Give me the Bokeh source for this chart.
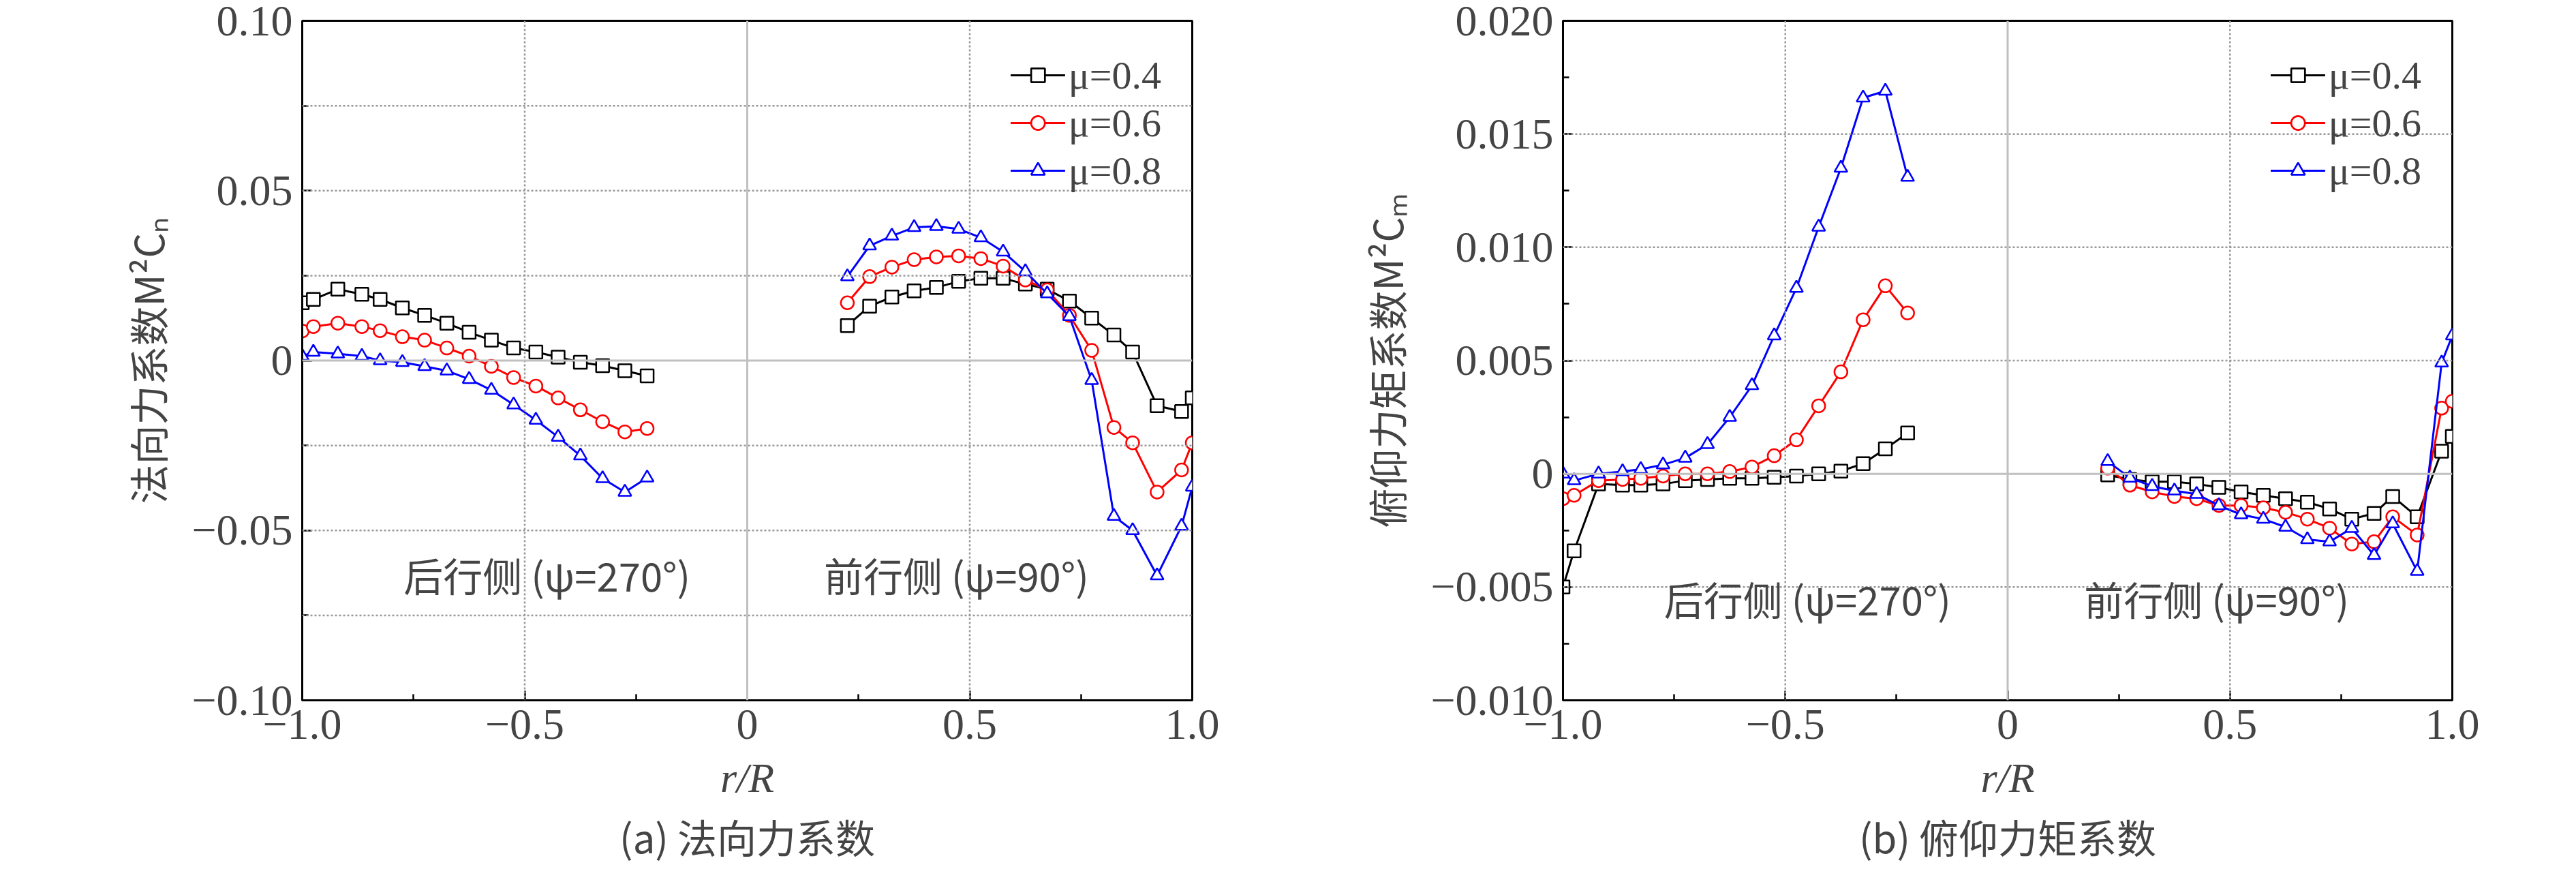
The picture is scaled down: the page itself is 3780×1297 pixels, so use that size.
from bokeh.plotting import figure
from bokeh.layouts import row
from bokeh.models import FixedTicker, Span, Title, Label, Legend, LegendItem
from bokeh.embed import file_html
from bokeh.resources import INLINE

x_neg = [-1.0, -0.975, -0.92, -0.866, -0.825, -0.775, -0.725, -0.675, -0.625, -0.575, -0.525, -0.475, -0.425, -0.375, -0.325, -0.275, -0.225]
x_pos = [0.225, 0.275, 0.325, 0.375, 0.425, 0.475, 0.525, 0.575, 0.625, 0.674, 0.724, 0.774, 0.824, 0.866, 0.921, 0.976, 1.0]

cn_04_neg = [0.017, 0.018, 0.021, 0.0195, 0.018, 0.0155, 0.0133, 0.011, 0.0083, 0.006, 0.0037, 0.0025, 0.001, -0.0005, -0.0015, -0.003, -0.0045]
cn_06_neg = [0.0087, 0.010, 0.011, 0.010, 0.0088, 0.007, 0.006, 0.0037, 0.0013, -0.0017, -0.005, -0.0075, -0.011, -0.0145, -0.018, -0.021, -0.020]
cn_08_neg = [0.0013, 0.0025, 0.002, 0.0013, 0.0, -0.0005, -0.0017, -0.003, -0.0055, -0.0087, -0.013, -0.0175, -0.0225, -0.028, -0.0347, -0.0387, -0.0345]
cn_04_pos = [0.0103, 0.016, 0.0187, 0.0205, 0.0215, 0.0233, 0.0242, 0.0242, 0.0225, 0.021, 0.0175, 0.0125, 0.0075, 0.0025, -0.0133, -0.015, -0.011]
cn_06_pos = [0.017, 0.0247, 0.0275, 0.0297, 0.0305, 0.0308, 0.030, 0.0278, 0.0237, 0.0208, 0.0133, 0.003, -0.0197, -0.0242, -0.0387, -0.0322, -0.0242]
cn_08_pos = [0.0247, 0.0338, 0.0367, 0.0392, 0.0395, 0.0387, 0.0362, 0.032, 0.0262, 0.0197, 0.013, -0.0058, -0.0458, -0.050, -0.0633, -0.0487, -0.0372]

cm_04_neg = [-0.005, -0.0034, -0.00045, -0.0005, -0.0005, -0.00045, -0.0003, -0.00025, -0.0002, -0.0002, -0.00015, -0.0001, 0.0, 0.00012, 0.00045, 0.0011, 0.0018]
cm_06_neg = [-0.0011, -0.00095, -0.0003, -0.00025, -0.0002, -0.0001, 0.0, 0.0, 0.0001, 0.0003, 0.0008, 0.0015, 0.003, 0.0045, 0.0068, 0.0083, 0.0071]
cm_08_neg = [0.0, -0.0003, 0.0, 0.0001, 0.0002, 0.0004, 0.0007, 0.0013, 0.0025, 0.0039, 0.0061, 0.0082, 0.0109, 0.0135, 0.0166, 0.0169, 0.0131]
cm_04_pos = [-0.00005, -0.00025, -0.00035, -0.00035, -0.00045, -0.0006, -0.0008, -0.00095, -0.0011, -0.00125, -0.00155, -0.002, -0.00175, -0.001, -0.0019, 0.001, 0.00165]
cm_06_pos = [0.00025, -0.0005, -0.0008, -0.001, -0.0011, -0.0014, -0.0014, -0.0015, -0.0017, -0.002, -0.0024, -0.0031, -0.003, -0.0019, -0.0027, 0.0029, 0.0032]
cm_08_pos = [0.00055, -0.00018, -0.00055, -0.00075, -0.0009, -0.0014, -0.0018, -0.002, -0.00235, -0.0029, -0.003, -0.0024, -0.0036, -0.0022, -0.0043, 0.0049, 0.0061]

labels = ["μ=0.4", "μ=0.6", "μ=0.8"]
colors = ["black", "red", "blue"]
markers = ["square", "circle", "triangle"]

SERIF = "Liberation Serif"
CJK = "Noto Sans CJK SC"


def make(series, yr, yticks, ylabels, ygrid, yminor, ylab, caption, ann_y, bl, br, width):
    p = figure(width=width, height=1280, x_range=(-1, 1), y_range=yr,
               output_backend="svg", toolbar_location=None,
               min_border_left=bl, min_border_right=br, min_border_top=30, min_border_bottom=253)
    p.background_fill_color = "white"
    p.outline_line_color = "black"
    p.outline_line_width = 3
    p.xgrid.visible = False
    p.ygrid.visible = False
    for v in [-0.5, 0.5]:
        p.add_layout(Span(location=v, dimension="height", line_color="#999999", line_dash="3 3", line_width=2.5))
    for v in ygrid:
        p.add_layout(Span(location=v, dimension="width", line_color="#999999", line_dash="3 3", line_width=2.5))
    p.add_layout(Span(location=0, dimension="height", line_color="#c0c0c0", line_width=3))
    p.add_layout(Span(location=0, dimension="width", line_color="#c0c0c0", line_width=3))

    items = []
    for (xs_list, ys_list), lab, c, m in zip(series, labels, colors, markers):
        rs = []
        for xs, ys in zip(xs_list, ys_list):
            rs.append(p.line(xs, ys, line_color=c, line_width=3))
            rs.append(p.scatter(xs, ys, marker=m, size=19, fill_color="white", line_color=c, line_width=2.5))
        items.append(LegendItem(label=lab, renderers=rs))
    leg = Legend(items=items, location="top_right", border_line_alpha=0, background_fill_alpha=0,
                 label_text_font=SERIF, label_text_font_size="58px",
                 glyph_width=80, glyph_height=50, spacing=0, padding=5, margin=40, label_height=70)
    p.add_layout(leg)

    for ax in (p.xaxis[0], p.yaxis[0]):
        ax.axis_line_width = 3
        ax.major_tick_in = 14
        ax.major_tick_out = 0
        ax.minor_tick_in = 9
        ax.minor_tick_out = 0
        ax.major_tick_line_width = 2.5
        ax.minor_tick_line_width = 2.5
        ax.major_label_text_font = SERIF
        ax.major_label_text_font_size = "64px"
        ax.major_label_standoff = 14
    p.xaxis.ticker = FixedTicker(ticks=[-1, -0.5, 0, 0.5, 1], minor_ticks=[-0.75, -0.25, 0.25, 0.75])
    p.xaxis.major_label_overrides = {-1: "−1.0", -0.5: "−0.5", 0: "0", 0.5: "0.5", 1: "1.0"}
    p.xaxis.axis_label = "r/R"
    p.xaxis.axis_label_text_font = SERIF
    p.xaxis.axis_label_text_font_style = "italic"
    p.xaxis.axis_label_text_font_size = "62px"
    p.xaxis.axis_label_standoff = 20
    p.yaxis.ticker = FixedTicker(ticks=yticks, minor_ticks=yminor)
    p.yaxis.major_label_overrides = ylabels
    p.yaxis.axis_label = ylab
    p.yaxis.axis_label_text_font = CJK
    p.yaxis.axis_label_text_font_style = "normal"
    p.yaxis.axis_label_text_font_size = "58px"
    p.yaxis.axis_label_standoff = 20

    p.add_layout(Label(x=-0.45, y=ann_y, text="后行侧 (ψ=270°)", text_align="center", text_baseline="middle",
                       text_font=CJK, text_font_size="58px"))
    p.add_layout(Label(x=0.47, y=ann_y, text="前行侧 (ψ=90°)", text_align="center", text_baseline="middle",
                       text_font=CJK, text_font_size="58px"))
    p.add_layout(Title(text=caption, align="center", text_font=CJK, text_font_size="58px",
                       text_font_style="normal"), "below")
    return p


series_a = [([x_neg, x_pos], [cn_04_neg, cn_04_pos]),
            ([x_neg, x_pos], [cn_06_neg, cn_06_pos]),
            ([x_neg, x_pos], [cn_08_neg, cn_08_pos])]
series_b = [([x_neg, x_pos], [cm_04_neg, cm_04_pos]),
            ([x_neg, x_pos], [cm_06_neg, cm_06_pos]),
            ([x_neg, x_pos], [cm_08_neg, cm_08_pos])]

pa = make(series_a, (-0.1, 0.1), [-0.1, -0.05, 0, 0.05, 0.1],
          {-0.1: "−0.10", -0.05: "−0.05", 0: "0", 0.05: "0.05", 0.1: "0.10"},
          [-0.075, -0.05, -0.025, 0.025, 0.05, 0.075], [-0.075, -0.025, 0.025, 0.075],
          "法向力系数M²Cₙ", "(a) 法向力系数", -0.063, 443, 133, 1882)
pb = make(series_b, (-0.01, 0.02), [-0.01, -0.005, 0, 0.005, 0.01, 0.015, 0.02],
          {-0.01: "−0.010", -0.005: "−0.005", 0: "0", 0.005: "0.005", 0.01: "0.010", 0.015: "0.015", 0.02: "0.020"},
          [-0.005, 0.005, 0.01, 0.015], [-0.0075, -0.0025, 0.0025, 0.0075, 0.0125, 0.0175],
          "俯仰力矩系数M²Cₘ", "(b) 俯仰力矩系数", -0.0055, 411, 166, 1882)

layout = row(pa, pb, spacing=0)
open("out.html", "w").write(file_html(layout, INLINE))
